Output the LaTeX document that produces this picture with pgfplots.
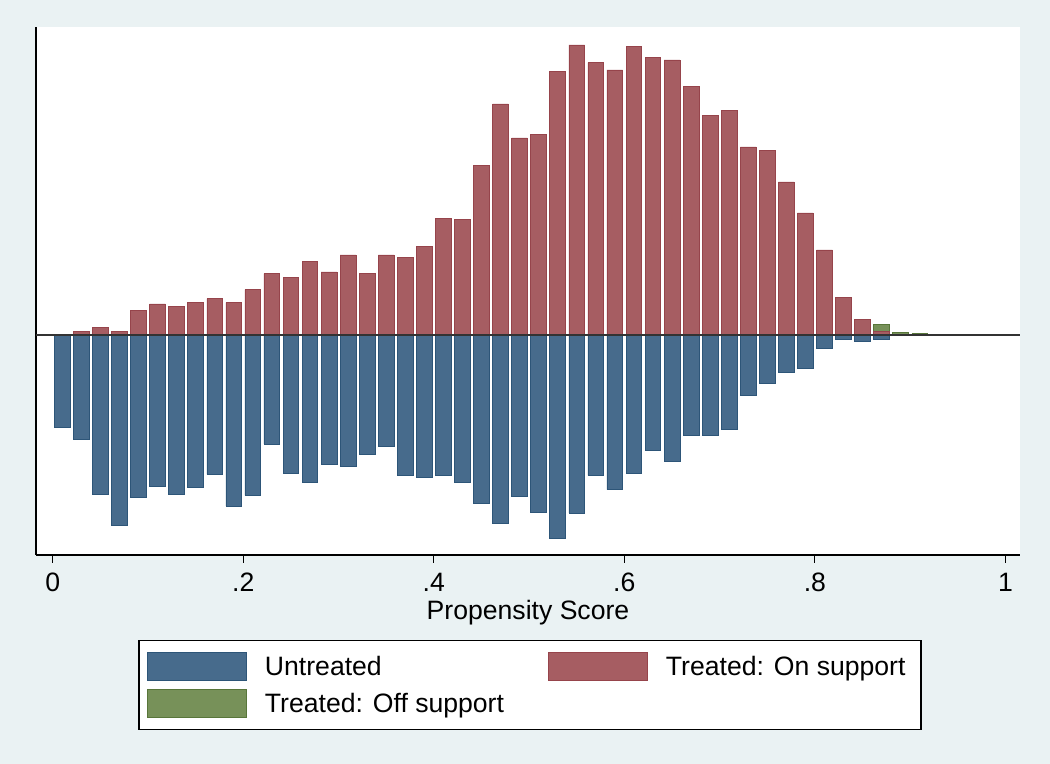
\documentclass[border=0pt]{standalone}
\usepackage{pgfplots}
\pgfplotsset{compat=1.18}
\usepackage{pgfplotstable}
\usepackage{fontspec}
\setmainfont{Liberation Sans}
\definecolor{bgc}{RGB}{234,242,243}
\definecolor{ublue}{RGB}{71,107,140}
\definecolor{ubluedk}{RGB}{45,85,120}
\definecolor{tred}{RGB}{166,93,98}
\definecolor{treddk}{RGB}{150,68,75}
\definecolor{tgreen}{RGB}{119,145,89}
\definecolor{tgreendk}{RGB}{88,118,58}

\pgfplotstableread{
x h
0.03 3.7
0.05 7.7
0.07 3.7
0.09 24.7
0.11 31
0.13 28.7
0.15 32.3
0.17 36.3
0.19 32.3
0.21 45.3
0.23 61.3
0.25 57.7
0.27 73.7
0.29 63
0.31 80
0.33 61.3
0.35 80
0.37 77.3
0.39 88.7
0.41 116.7
0.43 115.3
0.45 169.3
0.47 231
0.49 197
0.51 200.3
0.53 263.3
0.55 290
0.57 272.3
0.59 265
0.61 288.7
0.63 277.3
0.65 275
0.67 248.3
0.69 219.3
0.71 224.7
0.73 188
0.75 184.7
0.77 153
0.79 122
0.81 85
0.83 37.3
0.85 15.3
0.87 3.3
}\treatedon

\pgfplotstableread{
x h
0.01 -92.3
0.03 -104
0.05 -159
0.07 -190
0.09 -162.3
0.11 -151
0.13 -159
0.15 -152.3
0.17 -139.3
0.19 -171
0.21 -160.3
0.23 -109
0.25 -138.3
0.27 -147.7
0.29 -129.3
0.31 -131.3
0.33 -119
0.35 -111.3
0.37 -140.3
0.39 -142.3
0.41 -140.3
0.43 -147.7
0.45 -168
0.47 -188
0.49 -161.7
0.51 -177
0.53 -203.7
0.55 -178
0.57 -140.3
0.59 -154.7
0.61 -138.3
0.63 -115
0.65 -126.7
0.67 -100.7
0.69 -100.7
0.71 -94
0.73 -60.7
0.75 -48
0.77 -37
0.79 -33.3
0.81 -13.7
0.83 -4.7
0.85 -6
0.87 -4
}\untreated

\pgfplotstableread{
x h
0.87 10.3
0.89 2.3
0.91 1.3
}\treatedoff

\begin{document}
\begin{tikzpicture}
\fill[bgc] (0,0) rectangle (525pt,382pt);
\useasboundingbox (0,0) rectangle (525pt,382pt);
\begin{axis}[
  at={(18pt,104.5pt)}, anchor=south west,
  scale only axis, width=492pt, height=264pt,
  xmin=-0.01753, xmax=1.0153, ymin=-220, ymax=308,
  axis background/.style={fill=white},
  axis x line*=bottom, axis y line*=left,
  x axis line style={-, line width=0.75pt, black},
  y axis line style={-, line width=0.75pt, black},
  ytick=\empty,
  xtick={0,0.2,0.4,0.6,0.8,1},
  xticklabels={0,.2,.4,.6,.8,1},
  xtick align=outside,
  major tick length=4pt,
  xtick style={black, line width=0.6pt},
  tick label style={font=\fontsize{13.3}{16}\selectfont},
  xticklabel style={yshift=-1.5pt},
  /pgf/number format/assume math mode=true,
  xlabel={Propensity Score},
  xlabel style={font=\fontsize{13.3}{16}\selectfont, at={(axis description cs:0.5,-0.11)}, anchor=center},
  legend columns=2,
  legend cell align=left,
  legend image code/.code={\draw[#1, line width=0.4pt] (0pt,-5.6pt) rectangle (49.5pt,8.4pt); \path (58.5pt,0pt);},
  legend style={at={(axis description cs:0.502,-0.161)}, anchor=north, draw=black, line width=0.6pt, fill=white,
    inner xsep=4pt, inner ysep=5.5pt, column sep=0pt, row sep=4pt,
    nodes={inner sep=0pt, text height=9.5pt, text depth=2.8pt, font=\fontsize{13.3}{16}\selectfont}},
]
\addplot[ybar, bar width=0.0165, bar shift=0pt, fill=ublue, draw=ubluedk, line width=0.3pt, forget plot] table[x=x,y=h] {\untreated};
\addplot[ybar, bar width=0.0165, bar shift=0pt, fill=tgreen, draw=tgreendk, line width=0.3pt, forget plot] table[x=x,y=h] {\treatedoff};
\addplot[ybar, bar width=0.0165, bar shift=0pt, fill=tred, draw=treddk, line width=0.3pt, forget plot] table[x=x,y=h] {\treatedon};
\addplot[black!80, line width=0.7pt, forget plot] coordinates {(-0.01753,0) (1.0153,0)};
\addlegendimage{fill=ublue, draw=ubluedk}
\addlegendentry{\makebox[141.5pt][l]{Untreated}}
\addlegendimage{fill=tred, draw=treddk}
\addlegendentry{\makebox[123.5pt][l]{Treated: On support}}
\addlegendimage{fill=tgreen, draw=tgreendk}
\addlegendentry{\makebox[141.5pt][l]{Treated: Off support}}
\end{axis}
\end{tikzpicture}
\end{document}
